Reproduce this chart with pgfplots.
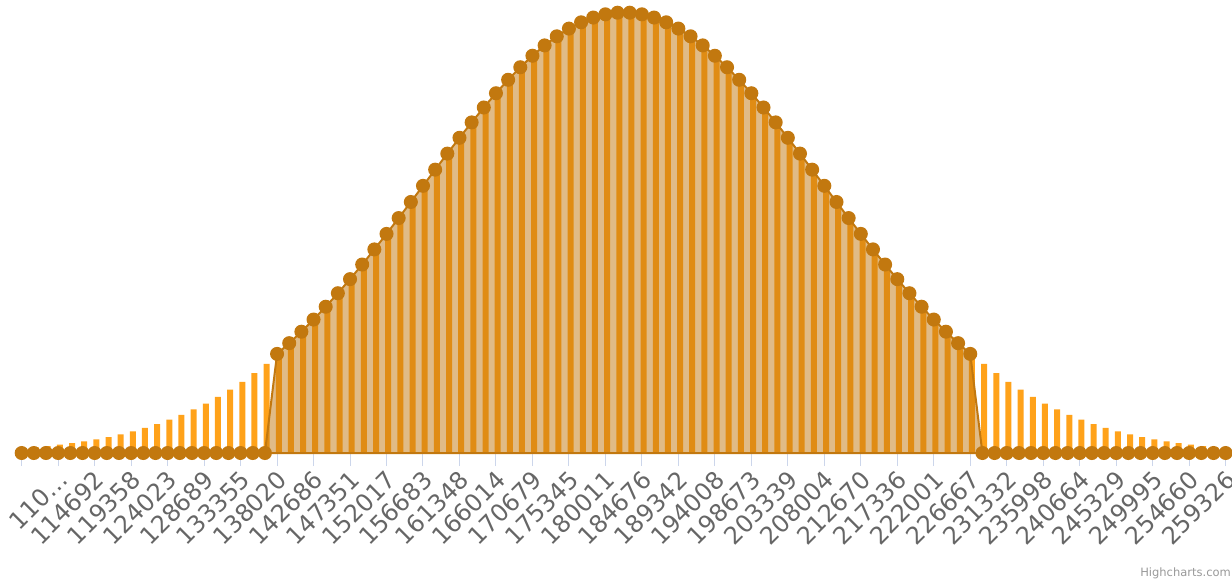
\documentclass[border=0pt]{standalone}
\usepackage{fontspec}
\setmainfont{DejaVu Sans}
\usepackage{pgfplots}
\usepackage{pgfplotstable}
\pgfplotsset{compat=1.18}
\definecolor{barc}{HTML}{FFA21A}
\definecolor{mk}{HTML}{C2780F}
\definecolor{axc}{HTML}{CCD6EB}
\definecolor{lab}{HTML}{666666}
\definecolor{cred}{HTML}{999999}
\pgfplotstableread{
i h a
0 4.89 0
1 5.86 0
2 6.99 0
3 8.31 0
4 9.84 0
5 11.60 0
6 13.64 0
7 15.97 0
8 18.63 0
9 21.66 0
10 25.09 0
11 28.95 0
12 33.29 0
13 38.14 0
14 43.53 0
15 49.50 0
16 56.09 0
17 63.31 0
18 71.21 0
19 79.80 0
20 89.09 0
21 99.10 99.10
22 109.84 109.84
23 121.29 121.29
24 133.45 133.45
25 146.28 146.28
26 159.77 159.77
27 173.85 173.85
28 188.48 188.48
29 203.60 203.60
30 219.12 219.12
31 234.95 234.95
32 251.01 251.01
33 267.18 267.18
34 283.35 283.35
35 299.40 299.40
36 315.20 315.20
37 330.61 330.61
38 345.51 345.51
39 359.76 359.76
40 373.22 373.22
41 385.76 385.76
42 397.26 397.26
43 407.61 407.61
44 416.69 416.69
45 424.42 424.42
46 430.70 430.70
47 435.47 435.47
48 438.68 438.68
49 440.30 440.30
50 440.30 440.30
51 438.68 438.68
52 435.47 435.47
53 430.70 430.70
54 424.42 424.42
55 416.69 416.69
56 407.61 407.61
57 397.26 397.26
58 385.76 385.76
59 373.22 373.22
60 359.76 359.76
61 345.51 345.51
62 330.61 330.61
63 315.20 315.20
64 299.40 299.40
65 283.35 283.35
66 267.18 267.18
67 251.01 251.01
68 234.95 234.95
69 219.12 219.12
70 203.60 203.60
71 188.48 188.48
72 173.85 173.85
73 159.77 159.77
74 146.28 146.28
75 133.45 133.45
76 121.29 121.29
77 109.84 109.84
78 99.10 99.10
79 89.09 0
80 79.80 0
81 71.21 0
82 63.31 0
83 56.09 0
84 49.50 0
85 43.53 0
86 38.14 0
87 33.29 0
88 28.95 0
89 25.09 0
90 21.66 0
91 18.63 0
92 15.97 0
93 13.64 0
94 11.60 0
95 9.84 0
96 8.31 0
97 6.99 0
98 5.86 0
99 4.89 0
}\data
\begin{document}
\begin{tikzpicture}
\useasboundingbox (0,0) rectangle (1232pt,-582pt);
\begin{axis}[
  at={(16.2pt,-453pt)}, anchor=south west,
  scale only axis, width=1215.5pt, height=453pt,
  xmin=-0.45, xmax=99.5, ymin=0, ymax=453,
  clip=false,
  axis x line*=bottom, axis y line=none,
  axis line style={axc, line width=1pt, -},
  xtick={0,3,...,99},
  xticklabels={{},110…,114692,119358,124023,128689,133355,138020,142686,147351,152017,156683,161348,166014,170679,175345,180011,184676,189342,194008,198673,203339,208004,212670,217336,222001,226667,231332,235998,240664,245329,249995,254660,259326},
  tick align=outside, major tick length=13pt,
  tick style={axc, line width=1pt},
  xticklabel style={rotate=45, anchor=base east, inner sep=0pt, yshift=-19pt, xshift=-3pt, font=\fontsize{24}{28}\selectfont, text=lab},
  ytick=\empty,
]
\addplot[ybar, bar width=6pt, bar shift=1.7pt, fill=barc, draw=none] table[x=i, y=h] {\data};
\addplot[draw=mk, line width=2pt, fill=mk, fill opacity=0.5, mark=*, mark size=6pt,
  mark options={fill=mk, draw=none, fill opacity=1}] table[x=i, y=a] {\data} \closedcycle;
\end{axis}
\node[anchor=base east, text=cred, font=\fontsize{11.5}{13}\selectfont, inner sep=0pt] at (1231pt,-576pt) {Highcharts.com};
\end{tikzpicture}
\end{document}
